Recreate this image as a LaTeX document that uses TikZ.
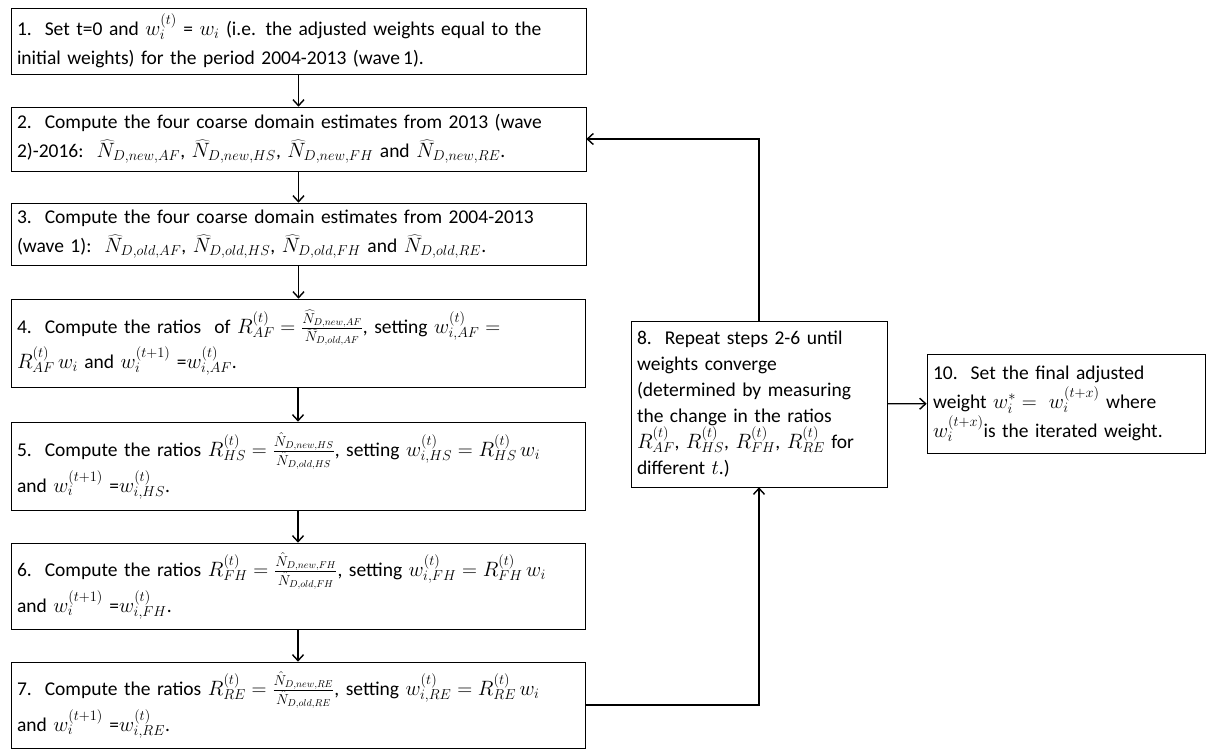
\documentclass[tikz,border=0pt]{standalone}
\usepackage{fontspec}
\setmainfont{Carlito}
\usetikzlibrary{arrows.meta}

\tikzset{
  stepbox/.style={draw, line width=0.6pt, inner sep=0pt, align=left,
    font=\fontsize{19.5}{29}\selectfont},
  flow/.style={line width=1.4pt, -{Straight Barb[length=6pt,width=11pt]}}
}

\begin{document}
\begin{tikzpicture}[x=1pt,y=-1pt]
  \useasboundingbox (0,0) rectangle (1207,752);

  % main column
  \node[stepbox, minimum width=575pt, minimum height=66pt, text width=563pt] (s1) at (298.5,41)
    {1.\ \ Set t=0 and $w_i^{(t)}$ = $w_i$ (i.e. the adjusted weights equal to the\\
     initial weights) for the period 2004-2013 (wave\,1).};
  \node[stepbox, minimum width=575pt, minimum height=64pt, text width=563pt] (s2) at (298.5,139)
    {2.\ \ Compute the four coarse domain estimates from 2013 (wave\\
     2)-2016:\ \ $\widehat{N}_{D,new,AF}$, $\widehat{N}_{D,new,HS}$, $\widehat{N}_{D,new,FH}$ and $\widehat{N}_{D,new,RE}$.};
  \node[stepbox, minimum width=575pt, minimum height=62pt, text width=563pt] (s3) at (298.5,234)
    {3.\ \ Compute the four coarse domain estimates from 2004-2013\\
     (wave 1):\ \ $\widehat{N}_{D,old,AF}$, $\widehat{N}_{D,old,HS}$, $\widehat{N}_{D,old,FH}$ and $\widehat{N}_{D,old,RE}$.};
  \node[stepbox, minimum width=574pt, minimum height=88pt, text width=562pt] (s4) at (298,343)
    {4.\ \ Compute the ratios\ \ of $R_{AF}^{(t)} = \frac{\widehat{N}_{D,new,AF}}{\widehat{N}_{D,old,AF}}$, setting $w_{i,AF}^{(t)} =$\\
     $R_{AF}^{(t)}\, w_i$ and $w_i^{(t+1)}$ =$w_{i,AF}^{(t)}$.};
  \node[stepbox, minimum width=574pt, minimum height=88pt, text width=562pt] (s5) at (298,466)
    {5.\ \ Compute the ratios $R_{HS}^{(t)} = \frac{\hat{N}_{D,new,HS}}{\hat{N}_{D,old,HS}}$, setting $w_{i,HS}^{(t)} = R_{HS}^{(t)}\, w_i$\\
     and $w_i^{(t+1)}$ =$w_{i,HS}^{(t)}$.};
  \node[stepbox, minimum width=574pt, minimum height=86pt, text width=562pt] (s6) at (298,586)
    {6.\ \ Compute the ratios $R_{FH}^{(t)} = \frac{\hat{N}_{D,new,FH}}{\hat{N}_{D,old,FH}}$, setting $w_{i,FH}^{(t)} = R_{FH}^{(t)}\, w_i$\\
     and $w_i^{(t+1)}$ =$w_{i,FH}^{(t)}$.};
  \node[stepbox, minimum width=574pt, minimum height=86pt, text width=562pt] (s7) at (298,705)
    {7.\ \ Compute the ratios $R_{RE}^{(t)} = \frac{\hat{N}_{D,new,RE}}{\hat{N}_{D,old,RE}}$, setting $w_{i,RE}^{(t)} = R_{RE}^{(t)}\, w_i$\\
     and $w_i^{(t+1)}$ =$w_{i,RE}^{(t)}$.};

  % loop and result
  \node[stepbox, font=\fontsize{19.5}{26}\selectfont, minimum width=256pt, minimum height=166pt, text width=244pt] (s8) at (759,404)
    {8.\ \ Repeat steps 2-6 until\\
     weights converge\\
     (determined by measuring\\
     the change in the ratios\\
     $R_{AF}^{(t)}$, $R_{HS}^{(t)}$, $R_{FH}^{(t)}$, $R_{RE}^{(t)}$ for\\
     different $t$.)};
  \node[stepbox, minimum width=278pt, minimum height=99pt, text width=266pt] (s10) at (1066,403.5)
    {10.\ \ Set the final adjusted\\
     weight $w_i^* =\ w_i^{(t+x)}$ where\\
     $w_i^{(t+x)}$is the iterated weight.};

  \draw[flow] (s1) -- (s2);
  \draw[flow] (s2) -- (s3);
  \draw[flow] (s3.south) -- (s3.south |- s4.north);
  \draw[flow] (s4) -- (s5);
  \draw[flow] (s5) -- (s6);
  \draw[flow] (s6) -- (s7);
  \draw[flow] (s7.east) -| (s8.south);
  \draw[flow] (s8.north) |- (s2.east);
  \draw[flow] (s8) -- (s10);
\end{tikzpicture}
\end{document}
